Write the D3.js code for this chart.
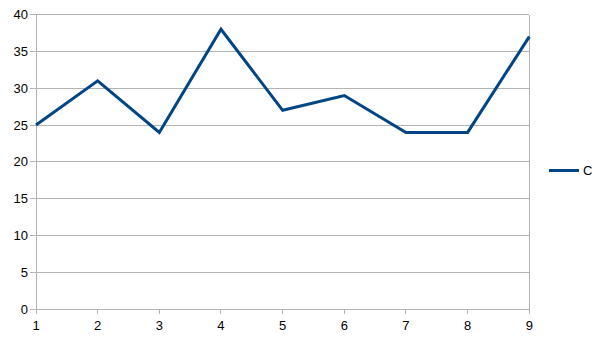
<!DOCTYPE html>
<html>
<head>
<meta charset="utf-8">
<script src="https://cdn.jsdelivr.net/npm/d3@7"></script>
<style>
html,body{margin:0;padding:0;background:#fff;}
svg{display:block;font-family:"Liberation Sans",Arial,sans-serif;}
</style>
</head>
<body>
<script>
const categories = [1, 2, 3, 4, 5, 6, 7, 8, 9];
const seriesC = [25, 31, 24, 38, 27, 29, 24, 24, 37];
const yTicks = [0, 5, 10, 15, 20, 25, 30, 35, 40];
const seriesName = "C";

(function () {
const W = 606, H = 341;
const pL = 36, pR = 529.3, pT = 14.5, pB = 309.3;

const svg = d3.select("body").append("svg").attr("width", W).attr("height", H);

const x = d3.scaleLinear().domain([1, 9]).range([pL, pR]);
const y = d3.scaleLinear().domain([0, 40]).range([pB, pT]);

const grid = "#b3b3b3";

// horizontal gridlines
svg.append("g").selectAll("line").data(yTicks).join("line")
  .attr("x1", pL - 6).attr("x2", pR)
  .attr("y1", d => y(d)).attr("y2", d => y(d))
  .attr("stroke", grid).attr("stroke-width", 1).attr("shape-rendering", "crispEdges");

// vertical axis lines (left and right)
svg.append("line").attr("x1", pL).attr("x2", pL).attr("y1", pT).attr("y2", pB + 5)
  .attr("stroke", grid).attr("shape-rendering", "crispEdges");
svg.append("line").attr("x1", pR).attr("x2", pR).attr("y1", pT).attr("y2", pB + 5)
  .attr("stroke", grid).attr("shape-rendering", "crispEdges");

// x ticks
svg.append("g").selectAll("line").data(categories).join("line")
  .attr("x1", d => x(d)).attr("x2", d => x(d))
  .attr("y1", pB).attr("y2", pB + 5)
  .attr("stroke", grid).attr("shape-rendering", "crispEdges");

// y labels
svg.append("g").selectAll("text").data(yTicks).join("text")
  .attr("x", 28).attr("y", d => y(d)).attr("dy", "0.35em")
  .attr("text-anchor", "end").attr("font-size", 13).attr("fill", "#000")
  .text(d => d);

// x labels
svg.append("g").selectAll("text").data(categories).join("text")
  .attr("x", d => x(d)).attr("y", 330)
  .attr("text-anchor", "middle").attr("font-size", 13).attr("fill", "#000")
  .text(d => d);

// line
const line = d3.line().x((d, i) => x(categories[i])).y(d => y(d));
svg.append("path").datum(seriesC)
  .attr("d", line).attr("fill", "none")
  .attr("stroke", "#004586").attr("stroke-width", 3)
  .attr("stroke-linejoin", "miter");

// legend
svg.append("line").attr("x1", 549).attr("x2", 579).attr("y1", 170.5).attr("y2", 170.5)
  .attr("stroke", "#004586").attr("stroke-width", 3);
svg.append("text").attr("x", 583).attr("y", 170.5).attr("dy", "0.35em")
  .attr("font-size", 13).attr("fill", "#000").text(seriesName);
})();
</script>
</body>
</html>
